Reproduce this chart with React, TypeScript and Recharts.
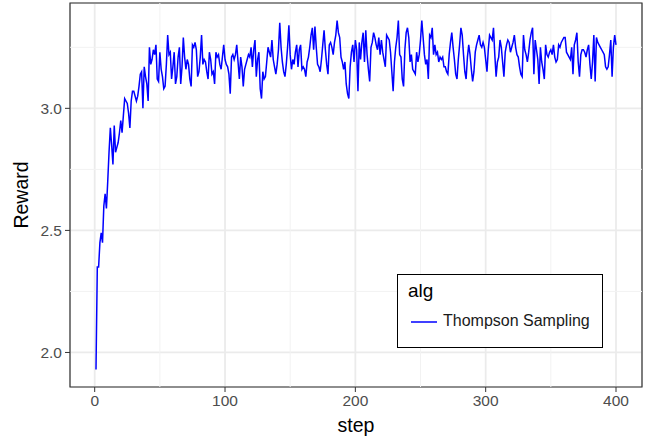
import React from "react";
import {
  LineChart,
  Line,
  XAxis,
  YAxis,
  CartesianGrid,
  ReferenceLine,
  ReferenceArea,
} from "recharts";

const seriesName = "Thompson Sampling";
const legendTitle = "alg";
const xTitle = "step";
const yTitle = "Reward";

const xTicks = [0, 100, 200, 300, 400];
const xMinor = [50, 150, 250, 350];
const yTicks = [2.0, 2.5, 3.0];
const yMinor = [2.25, 2.75, 3.25];

// mean reward per step (steps 1..400)
const reward: number[] = [
  1.93, 2.35, 2.35, 2.45, 2.49, 2.45, 2.6, 2.65, 2.59, 2.7,
  2.82, 2.92, 2.85, 2.77, 2.93, 2.82, 2.84, 2.86, 2.9, 2.95,
  2.9, 2.97, 3.04, 3.03, 3.02, 2.98, 2.92, 3.03, 3.07, 3.07,
  3.05, 3.03, 3.05, 3.09, 3.14, 3.15, 3.0, 3.17, 3.13, 3.1,
  3.03, 3.25, 3.18, 3.2, 3.24, 3.22, 3.26, 3.12, 3.11, 3.23,
  3.16, 3.13, 3.08, 3.09, 3.18, 3.3, 3.22, 3.23, 3.12, 3.17,
  3.23, 3.1, 3.13, 3.21, 3.25, 3.1, 3.17, 3.29, 3.21, 3.16,
  3.2, 3.18, 3.12, 3.09, 3.26, 3.25, 3.27, 3.24, 3.13, 3.15,
  3.21, 3.3, 3.18, 3.2, 3.19, 3.15, 3.12, 3.23, 3.2, 3.14,
  3.15, 3.1, 3.23, 3.21, 3.22, 3.18, 3.16, 3.21, 3.26, 3.2,
  3.18, 3.17, 3.14, 3.06, 3.21, 3.22, 3.2, 3.22, 3.26, 3.19,
  3.12, 3.21, 3.17, 3.09, 3.16, 3.18, 3.2, 3.22, 3.21, 3.25,
  3.17, 3.24, 3.28, 3.13, 3.2, 3.23, 3.08, 3.04, 3.15, 3.12,
  3.13, 3.19, 3.25, 3.23, 3.21, 3.28, 3.2, 3.17, 3.14, 3.18,
  3.24, 3.35, 3.25, 3.19, 3.15, 3.13, 3.18, 3.25, 3.34, 3.22,
  3.16, 3.2, 3.18, 3.23, 3.26, 3.17, 3.24, 3.26, 3.16, 3.17,
  3.16, 3.13, 3.19, 3.21, 3.25, 3.3, 3.33, 3.24, 3.335, 3.25,
  3.18, 3.17, 3.15, 3.2, 3.26, 3.32, 3.24, 3.18, 3.14, 3.26,
  3.27, 3.25, 3.22, 3.27, 3.3, 3.36, 3.31, 3.29, 3.21, 3.19,
  3.16, 3.19, 3.1, 3.06, 3.04, 3.17, 3.23, 3.26, 3.19, 3.28,
  3.24, 3.07, 3.27, 3.2, 3.27, 3.31, 3.19, 3.32, 3.22, 3.16,
  3.11, 3.25, 3.27, 3.31, 3.29, 3.26, 3.24, 3.29, 3.22, 3.28,
  3.23, 3.2, 3.17, 3.3, 3.29, 3.28, 3.23, 3.15, 3.07, 3.19,
  3.25, 3.29, 3.36, 3.22, 3.21, 3.12, 3.09, 3.24, 3.31, 3.33,
  3.29, 3.19, 3.22, 3.16, 3.15, 3.14, 3.23, 3.19, 3.22, 3.28,
  3.36, 3.29, 3.22, 3.18, 3.2, 3.12, 3.3, 3.29, 3.33, 3.22,
  3.26, 3.22, 3.23, 3.19, 3.21, 3.2, 3.21, 3.17, 3.17, 3.15,
  3.14, 3.22, 3.27, 3.31, 3.25, 3.2, 3.14, 3.12, 3.2, 3.26,
  3.33, 3.3, 3.22, 3.15, 3.12, 3.21, 3.26, 3.22, 3.16, 3.11,
  3.15, 3.23, 3.26, 3.28, 3.3, 3.26, 3.25, 3.27, 3.25, 3.2,
  3.15, 3.24, 3.3, 3.29, 3.28, 3.33, 3.22, 3.13, 3.19, 3.21,
  3.28, 3.25, 3.19, 3.13, 3.23, 3.26, 3.28, 3.27, 3.23, 3.25,
  3.27, 3.3, 3.25, 3.22, 3.21, 3.17, 3.14, 3.13, 3.3, 3.24,
  3.22, 3.19, 3.23, 3.28, 3.31, 3.33, 3.14, 3.28, 3.24, 3.2,
  3.1, 3.25, 3.19, 3.16, 3.12, 3.26, 3.22, 3.21, 3.23, 3.24,
  3.22, 3.26, 3.21, 3.19, 3.2, 3.26, 3.25, 3.27, 3.28, 3.29,
  3.29, 3.23, 3.22, 3.21, 3.2, 3.25, 3.14, 3.26, 3.28, 3.31,
  3.19, 3.13, 3.22, 3.24, 3.24, 3.23, 3.21, 3.24, 3.26, 3.18,
  3.12, 3.19, 3.3, 3.11, 3.29, 3.27, 3.26, 3.25, 3.24, 3.23,
  3.22, 3.17, 3.16, 3.17, 3.22, 3.28, 3.13, 3.25, 3.3, 3.26,
];

const data = reward.map((r, i) => ({ step: i + 1, reward: r }));

// ggplot-style 5% expansion around the data range
const xMin = 1;
const xMax = reward.length;
const xPad = (xMax - xMin) * 0.05;
const yMin = Math.min(...reward);
const yMax = Math.max(...reward);
const yPad = (yMax - yMin) * 0.05;

const FONT = "'Liberation Sans', Arial, sans-serif";

function LegendBox() {
  return (
    <div
      style={{
        position: "absolute",
        left: 397,
        top: 274,
        width: 206,
        height: 74,
        boxSizing: "border-box",
        border: "1.5px solid #000",
        background: "#fff",
        fontFamily: FONT,
      }}
    >
      <div style={{ position: "absolute", left: 10, top: 5, fontSize: 19, color: "#000" }}>
        {legendTitle}
      </div>
      <svg style={{ position: "absolute", left: 13, top: 45 }} width={26} height={4}>
        <line x1={0} y1={2} x2={26} y2={2} stroke="#0000ff" strokeWidth={1.5} />
      </svg>
      <div style={{ position: "absolute", left: 45, top: 37, fontSize: 16, color: "#1a1a1a" }}>
        {seriesName}
      </div>
    </div>
  );
}

export default function App() {
  return (
    <div style={{ position: "absolute", left: 0, top: 0, width: 645, height: 438, background: "#fff" }}>
      <LineChart
        width={645}
        height={438}
        data={data}
        margin={{ top: 3, right: 3, bottom: 0, left: 0 }}
        style={{ fontFamily: FONT }}
      >
        <CartesianGrid stroke="#ebebeb" strokeWidth={1.8} />
        {xMinor.map((v) => (
          <ReferenceLine key={"x" + v} x={v} stroke="#f2f2f2" strokeWidth={1} />
        ))}
        {yMinor.map((v) => (
          <ReferenceLine key={"y" + v} y={v} stroke="#f2f2f2" strokeWidth={1} />
        ))}
        <XAxis
          dataKey="step"
          type="number"
          domain={[xMin - xPad, xMax + xPad]}
          ticks={xTicks}
          allowDataOverflow
          height={51}
          axisLine={false}
          tickLine={{ stroke: "#333333", strokeWidth: 1 }}
          tickSize={5}
          tickMargin={3}
          tick={{ fill: "#4d4d4d", fontSize: 15.5 }}
          label={{ value: xTitle, position: "insideBottom", offset: 6, fill: "#000", fontSize: 19.5 }}
        />
        <YAxis
          type="number"
          domain={[yMin - yPad, yMax + yPad]}
          ticks={yTicks}
          allowDataOverflow
          width={70}
          axisLine={false}
          tickLine={{ stroke: "#333333", strokeWidth: 1 }}
          tickSize={5}
          tickMargin={3}
          tickFormatter={(v: number) => v.toFixed(1)}
          tick={{ fill: "#4d4d4d", fontSize: 15.5 }}
          label={{
            value: yTitle,
            angle: -90,
            position: "insideLeft",
            offset: 21,
            fill: "#000",
            fontSize: 19.5,
            style: { textAnchor: "middle" },
          }}
        />
        <Line
          type="linear"
          dataKey="reward"
          name={seriesName}
          stroke="#0000ff"
          strokeWidth={1.5}
          dot={false}
          isAnimationActive={false}
        />
        <ReferenceArea
          x1={xMin - xPad}
          x2={xMax + xPad}
          y1={yMin - yPad}
          y2={yMax + yPad}
          fill="none"
          stroke="#333333"
          strokeWidth={1.2}
        />
      </LineChart>
      <LegendBox />
    </div>
  );
}
